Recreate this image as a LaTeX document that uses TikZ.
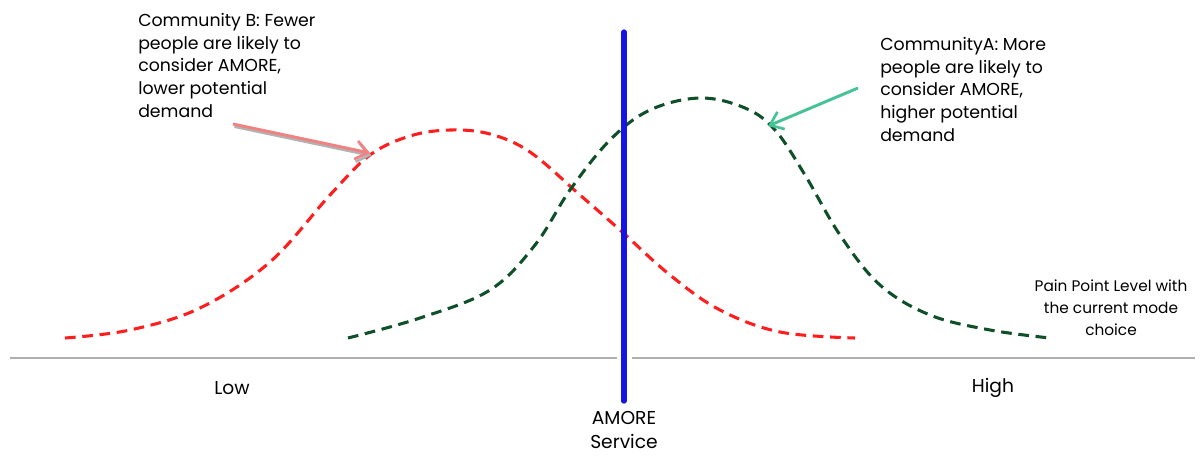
\documentclass[tikz,border=0pt]{standalone}
\usepackage{fontspec}
\setmainfont{Poppins}
\usetikzlibrary{arrows.meta}
\definecolor{cred}{RGB}{255,30,30}
\definecolor{cgreen}{RGB}{15,80,40}
\definecolor{cblue}{RGB}{20,20,230}
\definecolor{caxis}{RGB}{175,175,175}
\definecolor{cpink}{RGB}{240,130,130}
\definecolor{cmint}{RGB}{70,195,150}
\tikzset{
  curve/.style={line width=2.3pt, dash pattern=on 8pt off 5pt, smooth, tension=0.6},
  lbl/.style={font=\fontsize{13}{17}\selectfont, align=left, anchor=north west, inner sep=0pt},
  axlbl/.style={font=\fontsize{14}{18}\selectfont, inner sep=0pt},
  callout/.style={line width=2.2pt, -{Straight Barb[length=9pt,width=14pt,line width=2pt]}}
}
\begin{document}
\begin{tikzpicture}[x=0.75pt,y=-0.75pt]
\useasboundingbox (0,0) rectangle (1200,455);
% axis
\draw[caxis, line width=1.6pt] (10,358) -- (617,358);
\draw[caxis, line width=1.6pt] (632,358) -- (1195,358);
% red curve
\draw[cred, curve] plot coordinates {(65,338) (130,330) (200,308) (270,262) (330,195) (370,155) (410,136) (450,130) (490,134) (530,152) (580,195) (620,230) (670,275) (720,310) (780,332) (855,338)};
% green curve
\draw[cgreen, curve] plot coordinates {(348,338) (420,318) (490,290) (535,245) (570,190) (610,140) (650,110) (700,98) (745,108) (775,130) (805,175) (840,235) (880,285) (930,315) (990,330) (1050,338)};
% blue service line
\draw[cblue, line width=4pt, line cap=round] (624,32) -- (624,401);
% labels
\node[lbl] (tB) at (138,13) {Community B: Fewer\\people are likely to\\consider AMORE,\\lower potential\\demand};
\node[lbl] (tA) at (880,37) {CommunityA: More\\people are likely to\\consider AMORE,\\higher potential\\demand};
\node[font=\fontsize{11.5}{16.5}\selectfont, align=center, inner sep=0pt] (tP) at (1111,308) {Pain Point Level with\\the current mode\\choice};
\node[axlbl] (low) at (232,388) {Low};
\node[axlbl] (high) at (993,388) {High};
\node[axlbl, align=center, font=\fontsize{14}{18.5}\selectfont] (svc) at (624,430) {AMORE\\Service};
% callout arrows
\coordinate (bs) at (233,124);
\coordinate (be) at (370,153);
\coordinate (as) at (858,88);
\coordinate (ae) at (768,126);
\draw[gray!60, callout] ([shift={(1.5,2.5)}]bs) -- ([shift={(1.5,2.5)}]be);
\draw[cpink, callout] (bs) -- (be);
\draw[cmint, callout] (as) -- (ae);
\end{tikzpicture}
\end{document}
